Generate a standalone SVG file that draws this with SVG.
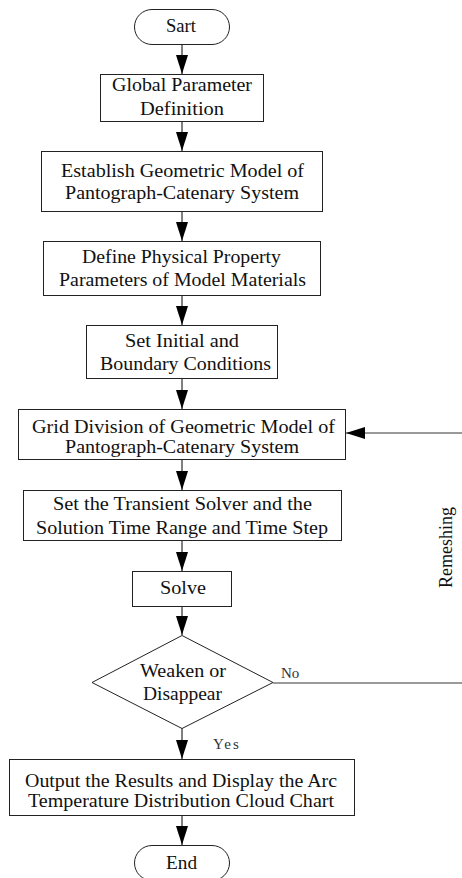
<svg xmlns="http://www.w3.org/2000/svg" width="462" height="878" viewBox="0 0 462 878">
<style>
.n{fill:#fff;stroke:#222;stroke-width:1}
.t{font-family:"Liberation Serif","Times New Roman",serif;font-size:19px;fill:#111}
.s{font-family:"Liberation Serif","Times New Roman",serif;font-size:15px;fill:#333}
.c{stroke:#000;stroke-width:1;fill:none}
.g{stroke:#7a7a7a;stroke-width:1.6;fill:none}
</style>
<defs>
<marker id="arr" markerUnits="userSpaceOnUse" markerWidth="19" markerHeight="12" viewBox="0 0 19 12" refX="19" refY="6" orient="auto">
<path d="M0,0 L19,6 L0,12 z" fill="#000"/>
</marker>
</defs>
<g id="connectors">
<line class="c" x1="182" y1="44" x2="182" y2="74" marker-end="url(#arr)"/>
<line class="c" x1="182" y1="121" x2="182" y2="151" marker-end="url(#arr)"/>
<line class="c" x1="182" y1="211" x2="182" y2="241" marker-end="url(#arr)"/>
<line class="c" x1="182" y1="295" x2="182" y2="325" marker-end="url(#arr)"/>
<line class="c" x1="182" y1="378" x2="182" y2="409" marker-end="url(#arr)"/>
<line class="c" x1="182" y1="459" x2="182" y2="490" marker-end="url(#arr)"/>
<line class="c" x1="182" y1="540" x2="182" y2="571" marker-end="url(#arr)"/>
<line class="c" x1="182" y1="606" x2="182" y2="635" marker-end="url(#arr)"/>
<line class="c" x1="182" y1="728" x2="182" y2="759" marker-end="url(#arr)"/>
<line class="c" x1="182" y1="815" x2="182" y2="845" marker-end="url(#arr)"/>
<path class="g" d="M273,683 H466 V433 H346" marker-end="url(#arr)"/>
<text class="s" x="281" y="678">No</text>
<text class="s" x="213" y="749" letter-spacing="2">Yes</text>
<text class="t" transform="translate(452,588) rotate(-90)" textLength="81" lengthAdjust="spacingAndGlyphs">Remeshing</text>
</g>
<g id="start">
<rect class="n" x="134.5" y="9.5" width="95" height="35" rx="17.5"/>
<text class="t" x="166" y="32" textLength="30" lengthAdjust="spacingAndGlyphs">Sart</text>
</g>
<g id="global">
<rect class="n" x="100.5" y="74.5" width="163" height="47"/>
<text class="t" x="112" y="91" textLength="140" lengthAdjust="spacingAndGlyphs">Global Parameter</text>
<text class="t" x="140" y="115" textLength="84" lengthAdjust="spacingAndGlyphs">Definition</text>
</g>
<g id="establish">
<rect class="n" x="41.5" y="151.5" width="281" height="60"/>
<text class="t" x="61" y="177" textLength="243" lengthAdjust="spacingAndGlyphs">Establish Geometric Model of</text>
<text class="t" x="65" y="199" textLength="234" lengthAdjust="spacingAndGlyphs">Pantograph-Catenary System</text>
</g>
<g id="define">
<rect class="n" x="43.5" y="241.5" width="277" height="54"/>
<text class="t" x="82" y="263" textLength="199" lengthAdjust="spacingAndGlyphs">Define Physical Property</text>
<text class="t" x="59" y="286" textLength="247" lengthAdjust="spacingAndGlyphs">Parameters of Model Materials</text>
</g>
<g id="setinit">
<rect class="n" x="86.5" y="325.5" width="191" height="53"/>
<text class="t" x="125" y="347" textLength="114" lengthAdjust="spacingAndGlyphs">Set Initial and</text>
<text class="t" x="100" y="370" textLength="171" lengthAdjust="spacingAndGlyphs">Boundary Conditions</text>
</g>
<g id="grid">
<rect class="n" x="18.5" y="409.5" width="327" height="50"/>
<text class="t" x="32" y="433" textLength="303" lengthAdjust="spacingAndGlyphs">Grid Division of Geometric Model of</text>
<text class="t" x="65" y="453" textLength="234" lengthAdjust="spacingAndGlyphs">Pantograph-Catenary System</text>
</g>
<g id="transient">
<rect class="n" x="23.5" y="490.5" width="318" height="50"/>
<text class="t" x="53" y="510" textLength="259" lengthAdjust="spacingAndGlyphs">Set the Transient Solver and the</text>
<text class="t" x="36" y="534" textLength="292" lengthAdjust="spacingAndGlyphs">Solution Time Range and Time Step</text>
</g>
<g id="solve">
<rect class="n" x="132.5" y="571.5" width="99" height="35"/>
<text class="t" x="160" y="594" textLength="46" lengthAdjust="spacingAndGlyphs">Solve</text>
</g>
<g id="decision">
<polygon class="n" points="182,635.5 273,682.5 182,728.5 92,682.5"/>
<text class="t" x="140" y="677" textLength="86" lengthAdjust="spacingAndGlyphs">Weaken or</text>
<text class="t" x="143" y="700" textLength="79" lengthAdjust="spacingAndGlyphs">Disappear</text>
</g>
<g id="output">
<rect class="n" x="9.5" y="759.5" width="345" height="56"/>
<text class="t" x="25" y="787" textLength="312" lengthAdjust="spacingAndGlyphs">Output the Results and Display the Arc</text>
<text class="t" x="28" y="807" textLength="306" lengthAdjust="spacingAndGlyphs">Temperature Distribution Cloud Chart</text>
</g>
<g id="end">
<rect class="n" x="134.5" y="845.5" width="95" height="35" rx="17.5"/>
<text class="t" x="166" y="869" textLength="31" lengthAdjust="spacingAndGlyphs">End</text>
</g>
</svg>
